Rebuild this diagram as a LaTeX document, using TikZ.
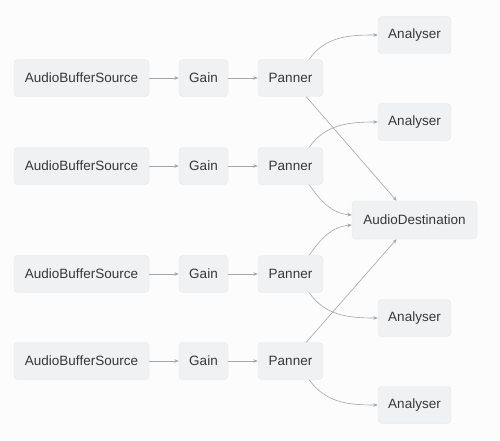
\documentclass[tikz,border=0pt]{standalone}
\usepackage{fontspec}
\setmainfont{Liberation Sans}
\usetikzlibrary{arrows.meta}
\definecolor{bgcol}{RGB}{252,252,252}
\definecolor{boxfill}{RGB}{240,241,243}
\definecolor{boxline}{RGB}{229,230,232}
\definecolor{linkcol}{RGB}{165,165,165}
\definecolor{txtcol}{RGB}{55,55,55}
\begin{document}
\begin{tikzpicture}[x=1pt,y=1pt,
  box/.style={draw=boxline,fill=boxfill,rounded corners=4pt,minimum height=37pt,
    inner sep=0pt,text=txtcol,font=\fontsize{13.5}{15}\selectfont},
  link/.style={draw=linkcol,line width=0.6pt,-{Stealth[length=4.5pt,width=3.5pt]}}]
\fill[bgcol] (0,0) rectangle (500,-441);
\useasboundingbox (0,0) rectangle (500,-441);
\foreach \r/\y in {1/-78,2/-166,3/-274,4/-361} {
  \node[box,minimum width=135pt] (src\r) at (81.5,\y) {AudioBufferSource};
  \node[box,minimum width=49pt] (gain\r) at (203.5,\y) {Gain};
  \node[box,minimum width=65pt] (pan\r) at (290.5,\y) {Panner};
  \draw[link] (src\r) -- (gain\r);
  \draw[link] (gain\r) -- (pan\r);
}
\foreach \r/\y in {1/-35,2/-122,3/-318,4/-405}
  \node[box,minimum width=73pt] (an\r) at (414.5,\y) {Analyser};
\node[box,minimum width=125pt,minimum height=38pt] (dest) at (414.5,-220) {AudioDestination};
\draw[link] (pan1.45) to[out=55,in=180] (an1.west);
\draw[link] (pan2.45) to[out=55,in=180] (an2.west);
\draw[link] (pan3.-45) to[out=-55,in=180] (an3.west);
\draw[link] (pan4.-45) to[out=-55,in=180] (an4.west);
\draw[link] (pan1.-50) -- (dest.133);
\draw[link] (pan4.50) -- (dest.-133);
\draw[link] (pan2.-45) to[out=-55,in=175] ([yshift=5pt]dest.west);
\draw[link] (pan3.45) to[out=55,in=185] ([yshift=-5pt]dest.west);
\end{tikzpicture}
\end{document}
